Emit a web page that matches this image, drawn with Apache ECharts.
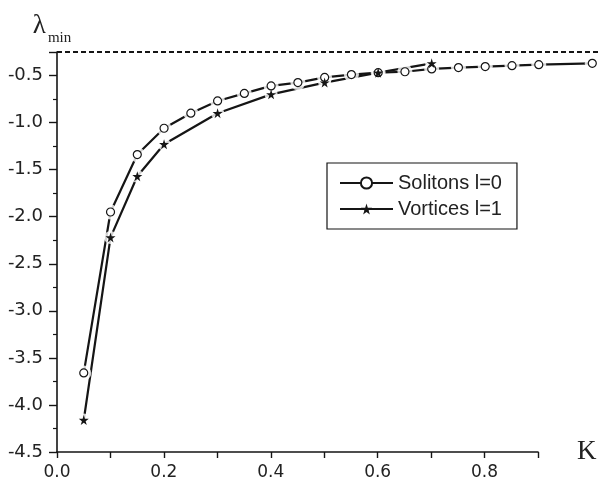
<!DOCTYPE html>
<html>
<head>
<meta charset="utf-8">
<script src="https://cdn.jsdelivr.net/npm/echarts@6/dist/echarts.min.js"></script>
<style>
    html, body { margin: 0; padding: 0; background: #fff; }
    #chart { width: 599px; height: 486px; }
</style>
</head>
<body>
<div id="chart"></div>
<script>
    // solitons l=0 (open circles)
    var kSol = [0.05, 0.1, 0.15, 0.2, 0.25, 0.3, 0.35, 0.4, 0.45, 0.5, 0.55, 0.6, 0.65, 0.7, 0.75, 0.8, 0.85, 0.9, 1.0];
    var lamSol = [-3.66, -1.95, -1.34, -1.06, -0.90, -0.77, -0.69, -0.61, -0.575, -0.52, -0.49, -0.47, -0.46, -0.43, -0.415, -0.405, -0.395, -0.385, -0.37];
    // vortices l=1 (stars)
    var kVor = [0.05, 0.1, 0.15, 0.2, 0.3, 0.4, 0.5, 0.6, 0.7];
    var lamVor = [-4.16, -2.22, -1.57, -1.23, -0.90, -0.70, -0.575, -0.47, -0.37];
    // dashed limit line
    var limitK = [0, 1.02];
    var limitLam = [-0.25, -0.25];

    var xTicks = { min: 0, max: 0.9, step: 0.1 };
    var yTicks = { min: -4.5, max: -0.25, step: 0.5 };
    // the data runs past the drawn K axis, so it sits on a wider hidden grid with the same scale
    var xData = { min: 0, max: 1.02 };

    var ink = '#151515';
    var star = 'path://M50,0 L61,35 L98,35 L68,57 L79,91 L50,70 L21,91 L32,57 L2,35 L39,35 Z';

    function pairs(xs, ys) {
        var out = [];
        for (var i = 0; i < xs.length; i++) {
            out.push([xs[i], ys[i]]);
        }
        return out;
    }
    var sol = pairs(kSol, lamSol);
    var vor = pairs(kVor, lamVor);

    function onData(s) {
        s.xAxisIndex = 1;
        s.yAxisIndex = 1;
        return s;
    }

    var chart = echarts.init(document.getElementById('chart'));
    var option = {
        backgroundColor: '#fff',
        animation: false,
        grid: [
            { left: 57, right: 61, top: 52, bottom: 34, outerBoundsMode: 'none' },
            { left: 57, right: -4, top: 52, bottom: 34, outerBoundsMode: 'none' }
        ],
        legend: {
            data: ['Solitons l=0', 'Vortices l=1'],
            orient: 'vertical',
            left: 327,
            top: 163,
            padding: [10, 15, 10, 12],
            itemGap: 6,
            itemWidth: 53,
            itemHeight: 14,
            borderColor: ink,
            borderWidth: 1.2,
            borderRadius: 0,
            selectedMode: false,
            lineStyle: { color: ink, width: 2, opacity: 1 },
            textStyle: { fontFamily: 'Liberation Sans', fontSize: 20, lineHeight: 18, color: '#222' }
        },
        xAxis: [
            {
                type: 'value',
                gridIndex: 0,
                min: xTicks.min,
                max: xTicks.max,
                interval: xTicks.step,
                name: 'K',
                nameLocation: 'end',
                nameGap: 39,
                nameTextStyle: { fontFamily: 'Liberation Serif', fontSize: 27, color: '#222' },
                axisLine: { lineStyle: { color: ink, width: 1.6 } },
                axisTick: { inside: false, length: 6, lineStyle: { color: ink, width: 1.4 } },
                splitLine: { show: false },
                axisLabel: {
                    margin: 12,
                    fontFamily: 'DejaVu Sans',
                    fontSize: 17,
                    color: '#222',
                    formatter: function (v) {
                        return Math.round(v * 10) % 2 === 0 ? v.toFixed(1) : '';
                    }
                }
            },
            {
                type: 'value',
                gridIndex: 1,
                min: xData.min,
                max: xData.max,
                show: false
            }
        ],
        yAxis: [
            {
                type: 'value',
                gridIndex: 0,
                min: yTicks.min,
                max: yTicks.max,
                interval: yTicks.step,
                name: '{l|λ}{s|min}',
                nameLocation: 'end',
                nameGap: 13,
                nameTextStyle: {
                    padding: [0, 10, 0, 0],
                    rich: {
                        l: { fontFamily: 'Liberation Serif', fontSize: 27, lineHeight: 27, color: '#222', verticalAlign: 'top' },
                        s: { fontFamily: 'Liberation Serif', fontSize: 15, lineHeight: 14, color: '#222', verticalAlign: 'top', padding: [19, 0, 0, 2] }
                    }
                },
                axisLine: { lineStyle: { color: ink, width: 1.6 } },
                axisTick: { inside: false, length: 8, lineStyle: { color: ink, width: 1.4 } },
                minorTick: { show: true, splitNumber: 2, length: 4, lineStyle: { color: ink, width: 1.2 } },
                splitLine: { show: false },
                axisLabel: {
                    margin: 14,
                    fontFamily: 'DejaVu Sans',
                    fontSize: 18,
                    color: '#222',
                    formatter: function (v) {
                        return Math.abs(v * 2 - Math.round(v * 2)) < 1e-6 ? v.toFixed(1) : '';
                    }
                }
            },
            {
                type: 'value',
                gridIndex: 1,
                min: yTicks.min,
                max: yTicks.max,
                show: false
            }
        ],
        series: [
            onData({
                name: 'limit',
                type: 'line',
                data: pairs(limitK, limitLam),
                symbol: 'none',
                clip: false,
                silent: true,
                z: 1,
                lineStyle: { color: ink, width: 2, type: [5, 3] }
            }),
            // the curves themselves
            onData({
                name: 'solLine', type: 'line', data: sol, symbol: 'none', silent: true, z: 1,
                lineStyle: { color: ink, width: 2.2 }
            }),
            onData({
                name: 'vorLine', type: 'line', data: vor, symbol: 'none', silent: true, z: 1,
                lineStyle: { color: ink, width: 2.2 }
            }),
            // white gaps round the markers
            onData({
                name: 'solGap', type: 'scatter', data: sol, symbol: 'circle', symbolSize: 15, silent: true, z: 2,
                itemStyle: { color: '#fff' }
            }),
            onData({
                name: 'vorGap', type: 'scatter', data: vor, symbol: 'circle', symbolSize: 13, silent: true, z: 2,
                itemStyle: { color: '#fff' }
            }),
            // markers (these carry the legend)
            onData({
                name: 'Solitons l=0', type: 'line', data: sol, z: 3,
                symbol: 'circle', symbolSize: 8,
                lineStyle: { color: 'rgba(0,0,0,0)' },
                itemStyle: { color: '#fff', borderColor: ink, borderWidth: 1.2 }
            }),
            onData({
                name: 'Vortices l=1', type: 'line', data: vor, z: 3,
                symbol: star, symbolSize: 10,
                lineStyle: { color: 'rgba(0,0,0,0)' },
                itemStyle: { color: ink, borderWidth: 0 }
            })
        ]
    };
    chart.setOption(option);
</script>
</body>
</html>
